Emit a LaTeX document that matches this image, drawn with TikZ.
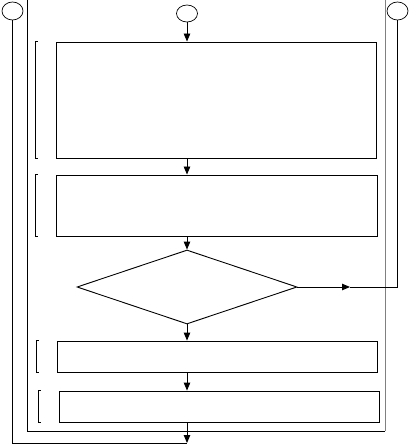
\documentclass[tikz,border=0pt]{standalone}
\usepackage{tikz}
\usetikzlibrary{arrows.meta, shapes.geometric}

\begin{document}
\begin{tikzpicture}[x=1pt, y=-1pt, line width=0.9pt,
  block/.style={draw, rectangle, minimum width=320pt, inner sep=0pt},
  term/.style={draw, ellipse, minimum width=21pt, minimum height=18pt, inner sep=0pt, line width=0.7pt},
  arr/.style={-{Triangle[length=8pt, width=6.5pt]}}]
  \useasboundingbox (0,0) rectangle (408,446);

  % Connectors (circles)
  \node[term] (lc) at (12.5,11) {};
  \node[term, minimum height=17pt] (tc) at (187,13.5) {};
  \node[term] (rc) at (397.5,11) {};

  % Process steps
  \node[block, minimum height=116pt] (b1) at (216,100) {};
  \node[block, minimum width=321pt, minimum height=61pt] (b2) at (216.5,205.5) {};
  \node[draw, diamond, minimum width=220pt, minimum height=74pt, inner sep=0pt] (dm) at (187,287) {};
  \node[block, minimum height=31pt] (b3) at (217,356.5) {};
  \node[block, minimum height=31pt] (b4) at (219,406.5) {};

  % Loop frame
  \draw (27,0) -- (27,431) -- (385,431);
  \draw[gray] (385,431) -- (385,0);

  % Brackets
  \foreach \b in {b1,b2,b3,b4}
    \draw[line width=0.7pt] ([xshift=-18pt]\b.north west) -- ++(-2pt,0pt) |- ([xshift=-18pt]\b.south west);

  % Main flow
  \coordinate (bot) at (187,443);
  \draw[arr] (tc.south) -- (tc.south |- b1.north);
  \draw[arr] (b1.south -| tc) -- (b2.north -| tc);
  \draw[arr] (b2.south -| tc) -- (dm.north);
  \draw[arr] (dm.south) -- (b3.north -| tc);
  \draw[arr] (b3.south -| tc) -- (b4.north -| tc);
  \draw[arr] (b4.south -| tc) -- (bot);
  \draw (lc.south) |- (bot);

  % Exit branch
  \coordinate (dmid) at (350,287);
  \draw[arr] (dm.east) -- (dmid);
  \draw (dmid) -- (rc |- dm.east) -- (rc.south);
\end{tikzpicture}
\end{document}
